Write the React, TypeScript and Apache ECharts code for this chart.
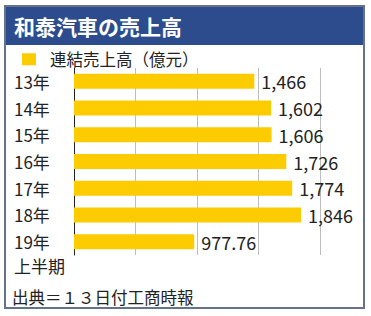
import React, { useEffect, useRef } from "react";
import * as echarts from "echarts";

const title = "和泰汽車の売上高";
const seriesName = "連結売上高（億元）";
const categories = ["13年", "14年", "15年", "16年", "17年", "18年", "19年\n上半期"];
const values = [1466, 1602, 1606, 1726, 1774, 1846, 977.76];
const source = "出典＝１３日付工商時報";

const FONT = '"Noto Sans CJK JP", "Noto Sans", sans-serif';

export default function App() {
  const ref = useRef<HTMLDivElement>(null);
  useEffect(() => {
    if (!ref.current) return;
    const chart = echarts.init(ref.current, undefined, { renderer: "svg" });
    chart.setOption({
      animation: false,
      backgroundColor: "#ffffff",
      textStyle: { fontFamily: FONT },
      legend: {
        left: 22,
        top: 51,
        padding: 0,
        icon: "rect",
        itemWidth: 14,
        itemHeight: 12,
        data: [seriesName],
        textStyle: { fontSize: 16.5, color: "#222", padding: [0, 0, 0, 9], fontFamily: FONT },
      },
      grid: { left: 74, right: 51, top: 68, height: 187, containLabel: false },
      xAxis: {
        type: "value",
        min: 0,
        max: 2000,
        interval: 500,
        axisLabel: { show: false },
        axisLine: { show: false },
        axisTick: { show: false },
        splitLine: { lineStyle: { color: "#bdbdbd", width: 1 } },
      },
      yAxis: {
        type: "category",
        inverse: true,
        data: categories,
        axisLine: { show: true, lineStyle: { color: "#222", width: 1 } },
        axisTick: { show: false },
        axisLabel: {
          interval: 0,
          hideOverlap: false,
          align: "left",
          margin: 60,
          fontSize: 17,
          lineHeight: 24,
          color: "#222",
          fontFamily: FONT,
          formatter: (v: string) => (v.indexOf("\n") >= 0 ? "\n" + v : v),
        },
      },
      series: [
        {
          name: seriesName,
          type: "bar",
          data: values,
          barWidth: 15,
          itemStyle: { color: "#fccb00" },
          label: {
            show: true,
            position: "right",
            distance: 7,
            fontSize: 18,
            color: "#222",
            fontFamily: FONT,
            formatter: (p: any) => Number(p.value).toLocaleString("en-US", { maximumFractionDigits: 2 }),
          },
        },
      ],
      graphic: [
        {
          type: "rect",
          shape: { x: 5, y: 6, width: 359, height: 302 },
          style: { fill: "none", stroke: "#66728a", lineWidth: 2 },
          silent: true,
        },
        {
          type: "rect",
          shape: { x: 6, y: 7, width: 357, height: 38 },
          style: { fill: "#2d4c8e" },
          silent: true,
        },
        {
          type: "text",
          x: 14,
          y: 26,
          style: {
            text: title,
            fill: "#ffffff",
            fontSize: 21,
            fontWeight: "bold",
            fontFamily: FONT,
            verticalAlign: "middle",
          },
        },
        {
          type: "text",
          x: 12,
          y: 297,
          style: {
            text: source,
            fill: "#222",
            fontSize: 16.5,
            fontFamily: FONT,
            verticalAlign: "middle",
          },
        },
      ],
    });
    return () => chart.dispose();
  }, []);
  return (
    <div
      ref={ref}
      style={{ position: "fixed", left: 0, top: 0, width: 371, height: 316 }}
    />
  );
}
